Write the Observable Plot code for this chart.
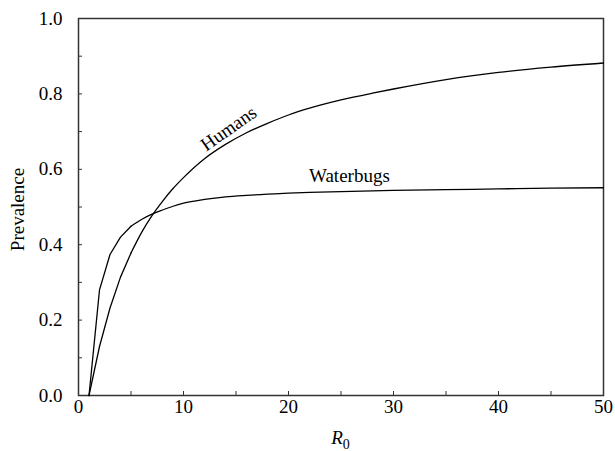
<!DOCTYPE html>
<html>
<head>
<meta charset="utf-8">
<script src="https://cdn.jsdelivr.net/npm/d3@7"></script>
<script src="https://cdn.jsdelivr.net/npm/@observablehq/plot@0.6"></script>
<style>
  html, body { margin: 0; padding: 0; background: #fff; }
  #chart svg { display: block; }
</style>
</head>
<body>
<div id="chart"></div>
<script>
const R0 = [1, 2, 3, 4, 5, 6, 7, 8, 9, 10, 12, 14, 16, 18, 20, 22, 25, 28, 30, 35, 40, 45, 50];
const humans = [0, 0.13, 0.232, 0.314, 0.378, 0.432, 0.477, 0.515, 0.549, 0.578, 0.628, 0.666, 0.697, 0.722, 0.744, 0.762, 0.784, 0.802, 0.813, 0.838, 0.857, 0.871, 0.882];
const waterbugs = [0, 0.28, 0.374, 0.42, 0.449, 0.467, 0.481, 0.492, 0.502, 0.51, 0.52, 0.527, 0.531, 0.534, 0.537, 0.539, 0.541, 0.543, 0.544, 0.546, 0.548, 0.55, 0.551];

const xTicks = [0, 5, 10, 15, 20, 25, 30, 35, 40, 45, 50];
const xTickLabels = [0, 10, 20, 30, 40, 50];
const yTicks = [0, 0.1, 0.2, 0.3, 0.4, 0.5, 0.6, 0.7, 0.8, 0.9, 1.0];
const yTickLabels = [0, 0.2, 0.4, 0.6, 0.8, 1.0];

const seriesLabels = [
  {name: "Humans", x: 14.3, y: 0.708, rotate: -35},
  {name: "Waterbugs", x: 25.8, y: 0.582, rotate: 0}
];

const rows = [];
R0.forEach((r, i) => {
  rows.push({R0: r, value: humans[i], series: "Humans"});
  rows.push({R0: r, value: waterbugs[i], series: "Waterbugs"});
});
// the first integer steps are drawn as straight segments, the rest smoothly
const early = rows.filter(d => d.R0 <= 5);
const late = rows.filter(d => d.R0 >= 5);

const isLabelX = d => xTickLabels.some(v => Math.abs(v - d) < 1e-9);
const isLabelY = d => yTickLabels.some(v => Math.abs(v - d) < 1e-9);

const font = "'Liberation Serif', 'DejaVu Serif', serif";

const plot = Plot.plot({
  width: 615,
  height: 451,
  marginLeft: 78,
  marginRight: 12,
  marginTop: 18,
  marginBottom: 56,
  style: {fontFamily: font, fontSize: "19px", color: "#000", background: "#fff"},
  x: {domain: [0, 50]},
  y: {domain: [0, 1]},
  marks: [
    Plot.axisX({ticks: xTicks, tickSize: -4, tickPadding: 8, stroke: "#333",
      tickFormat: d => isLabelX(d) ? String(d) : "", label: null, fontSize: 19}),
    Plot.axisY({ticks: yTicks, tickSize: -4, tickPadding: 20, stroke: "#333",
      tickFormat: d => isLabelY(d) ? d.toFixed(1) : "", label: null, fontSize: 19}),
    Plot.frame({stroke: "#333", strokeWidth: 1.5}),
    Plot.line(early, {x: "R0", y: "value", z: "series", stroke: "#000", strokeWidth: 1.3, curve: "linear"}),
    Plot.line(late, {x: "R0", y: "value", z: "series", stroke: "#000", strokeWidth: 1.3, curve: "monotone-x"}),
    Plot.text(seriesLabels, {x: "x", y: "y", text: "name", rotate: "rotate", fontSize: 19, fill: "#000", textAnchor: "middle", lineAnchor: "middle"})
  ]
});

document.getElementById("chart").appendChild(plot);

const svg = d3.select(plot);
const xs = plot.scale("x");
const ys = plot.scale("y");

// y axis title
svg.append("text")
  .attr("transform", `translate(24, ${(ys.apply(0) + ys.apply(1)) / 2 + 3}) rotate(-90)`)
  .attr("text-anchor", "middle")
  .attr("font-family", font)
  .attr("font-size", 19)
  .attr("fill", "#000")
  .text("Prevalence");

// x axis title R0 with subscript
const xt = svg.append("text")
  .attr("x", xs.apply(25))
  .attr("y", 444)
  .attr("text-anchor", "middle")
  .attr("font-family", font)
  .attr("font-size", 19)
  .attr("fill", "#000");
xt.append("tspan").attr("font-style", "italic").text("R");
xt.append("tspan").attr("font-size", 14).attr("dy", 5).text("0");
</script>
</body>
</html>
